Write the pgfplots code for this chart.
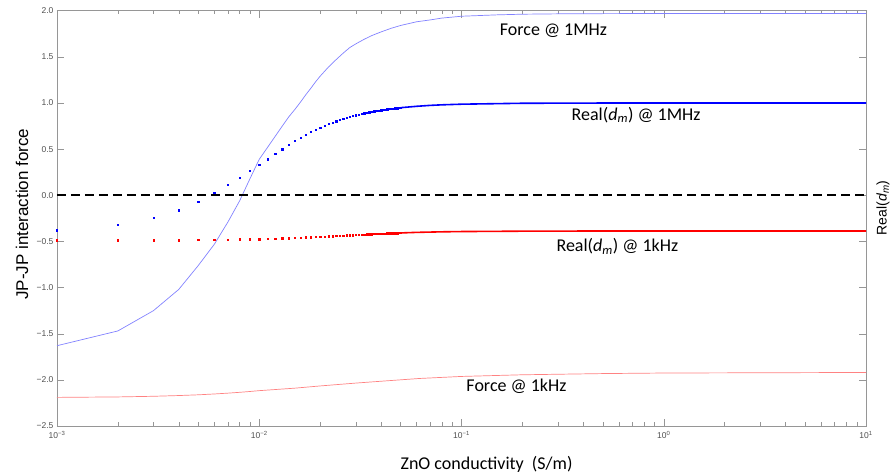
\documentclass[border=0pt]{standalone}
\usepackage{fontspec}
\setmainfont{Liberation Sans}
\newfontfamily\carlito{Carlito}
\usepackage{pgfplots}
\pgfplotsset{compat=1.18}
\usepackage{pgfplotstable}

\definecolor{axgray}{RGB}{150,150,150}
\definecolor{lblgray}{RGB}{80,80,80}
\definecolor{forceblue}{RGB}{130,130,255}
\definecolor{forcered}{RGB}{255,130,130}

% Force @ 1MHz
\pgfplotstableread{
x y
0.001 -1.63
0.002 -1.47
0.003 -1.25
0.004 -1.02
0.005 -0.76
0.006 -0.53
0.007 -0.29
0.008 -0.06
0.009 0.18
0.010 0.39
0.011 0.52
0.012 0.64
0.013 0.75
0.014 0.85
0.015 0.93
0.016 1.01
0.017 1.09
0.018 1.16
0.019 1.23
0.020 1.29
0.022 1.39
0.024 1.47
0.026 1.54
0.028 1.60
0.030 1.64
0.033 1.69
0.036 1.73
0.040 1.77
0.045 1.81
0.050 1.84
0.060 1.88
0.070 1.90
0.080 1.92
0.100 1.94
0.150 1.955
0.200 1.962
0.300 1.966
0.500 1.968
1 1.97
10 1.97
}\forceMHz

% Force @ 1kHz
\pgfplotstableread{
x y
0.001 -2.190
0.002 -2.185
0.003 -2.178
0.004 -2.170
0.005 -2.162
0.006 -2.153
0.007 -2.144
0.008 -2.135
0.009 -2.126
0.010 -2.117
0.015 -2.090
0.020 -2.066
0.030 -2.035
0.043 -2.010
0.062 -1.985
0.100 -1.963
0.200 -1.945
0.500 -1.932
1 -1.926
10 -1.920
}\forcekHz

% Real(dm) @ 1MHz, sampled points
\pgfplotstableread{
x y
0.001 -0.380
0.002 -0.320
0.003 -0.246
0.004 -0.160
0.005 -0.070
0.006 0.030
0.007 0.115
0.008 0.190
0.009 0.268
0.010 0.330
0.011 0.390
0.012 0.449
0.013 0.501
0.014 0.548
0.015 0.589
0.016 0.625
0.017 0.657
0.018 0.686
0.019 0.712
0.020 0.734
0.021 0.755
0.022 0.773
0.023 0.789
0.024 0.804
0.025 0.817
0.026 0.830
0.027 0.841
0.028 0.851
0.029 0.860
0.030 0.868
0.031 0.876
0.032 0.883
0.033 0.889
0.034 0.895
0.035 0.900
0.036 0.906
0.037 0.910
0.038 0.915
0.039 0.919
0.040 0.922
0.041 0.926
0.042 0.929
0.043 0.932
0.044 0.935
0.045 0.938
0.046 0.941
0.047 0.943
0.048 0.945
0.049 0.947
0.050 0.949
}\dmMHzpts

\pgfplotstableread{
x y
0.050 0.949
0.060 0.964
0.070 0.974
0.080 0.980
0.100 0.987
0.200 0.997
0.500 0.9995
1 1.000
10 1.000
}\dmMHzline

% Real(dm) @ 1kHz, sampled points
\pgfplotstableread{
x y
0.001 -0.487
0.002 -0.486
0.003 -0.486
0.004 -0.485
0.005 -0.483
0.006 -0.482
0.007 -0.480
0.008 -0.478
0.009 -0.476
0.010 -0.474
0.011 -0.471
0.012 -0.469
0.013 -0.466
0.014 -0.464
0.015 -0.461
0.016 -0.459
0.017 -0.456
0.018 -0.454
0.019 -0.451
0.020 -0.449
0.021 -0.447
0.022 -0.444
0.023 -0.442
0.024 -0.440
0.025 -0.438
0.026 -0.436
0.027 -0.434
0.028 -0.432
0.029 -0.431
0.030 -0.429
0.031 -0.427
0.032 -0.426
0.033 -0.424
0.034 -0.423
0.035 -0.422
0.036 -0.420
0.037 -0.419
0.038 -0.418
0.039 -0.417
0.040 -0.416
0.041 -0.415
0.042 -0.414
0.043 -0.413
0.044 -0.412
0.045 -0.411
0.046 -0.411
0.047 -0.410
0.048 -0.409
0.049 -0.408
0.050 -0.408
}\dmkHzpts

\pgfplotstableread{
x y
0.050 -0.408
0.060 -0.402
0.080 -0.396
0.100 -0.393
0.200 -0.389
0.500 -0.387
1 -0.387
10 -0.387
}\dmkHzline

\begin{document}
\begin{tikzpicture}
\begin{axis}[
    scale only axis,
    width=809pt, height=415.3pt,
    xmode=log,
    xmin=1e-3, xmax=10,
    ymin=-2.5, ymax=2.0,
    axis line style={axgray},
    every tick/.style={axgray},
    major tick length=7pt,
    minor tick length=3.5pt,
    tick align=inside,
    xtick={1e-3,1e-2,1e-1,1,10},
    xticklabels={10\textsuperscript{−3},10\textsuperscript{−2},10\textsuperscript{−1},10\textsuperscript{0},10\textsuperscript{1}},
    ytick={-2.5,-2,...,2},
    yticklabels={−2.5,−2.0,−1.5,−1.0,−0.5,0.0,0.5,1.0,1.5,2.0},
    ytick pos=both, yticklabel pos=left,
    xtick pos=both, xticklabel pos=bottom,
    ticklabel style={font=\fontsize{8.5}{10}\selectfont, text=lblgray},
    x tick label style={yshift=-2pt},
    clip=false,
]
\addplot[forceblue, line width=0.7pt] table[x=x, y=y] {\forceMHz};
\addplot[forcered, line width=0.7pt] table[x=x, y=y] {\forcekHz};
\addplot[black, line width=1.8pt, dash pattern=on 9pt off 5pt] coordinates {(1e-3,0) (10,0)};
\addplot[only marks, blue, mark=square*, mark size=0.7pt] table[x=x, y=y] {\dmMHzpts};
\addplot[blue, line width=1.6pt] table[x=x, y=y] {\dmMHzline};
\addplot[only marks, red, mark=square*, mark size=0.7pt] table[x=x, y=y] {\dmkHzpts};
\addplot[red, line width=1.6pt] table[x=x, y=y] {\dmkHzline};

\node[font=\carlito\fontsize{18}{20}\selectfont] at (axis cs:0.285,1.783) {Force @ 1MHz};
\node[font=\carlito\fontsize{18}{20}\selectfont] at (axis cs:0.73,0.87) {Real(\textit{d}\textsubscript{\textit{m}}) @ 1MHz};
\node[font=\carlito\fontsize{18}{20}\selectfont] at (axis cs:0.59,-0.557) {Real(\textit{d}\textsubscript{\textit{m}}) @ 1kHz};
\node[font=\carlito\fontsize{18}{20}\selectfont] at (axis cs:0.187,-2.074) {Force @ 1kHz};

\node[font=\carlito\fontsize{18}{20}\selectfont] at ([yshift=-38pt]rel axis cs:0.531,0) {ZnO conductivity~~(S/m)};
\node[rotate=90, font=\fontsize{17}{20}\selectfont] at ([xshift=-35pt]rel axis cs:0,0.51) {JP-JP interaction force};
\node[rotate=90, font=\fontsize{14}{16}\selectfont] at ([xshift=17pt]rel axis cs:1,0.525) {Real(\textit{d}\textsubscript{\textit{m}})};

\coordinate (bl) at (rel axis cs:0,0);
\coordinate (tr) at (rel axis cs:1,1);
\end{axis}
\pgfresetboundingbox
\path ([shift={(-57pt,-50pt)}]bl) rectangle ([shift={(28pt,10.7pt)}]tr);
\end{tikzpicture}
\end{document}
